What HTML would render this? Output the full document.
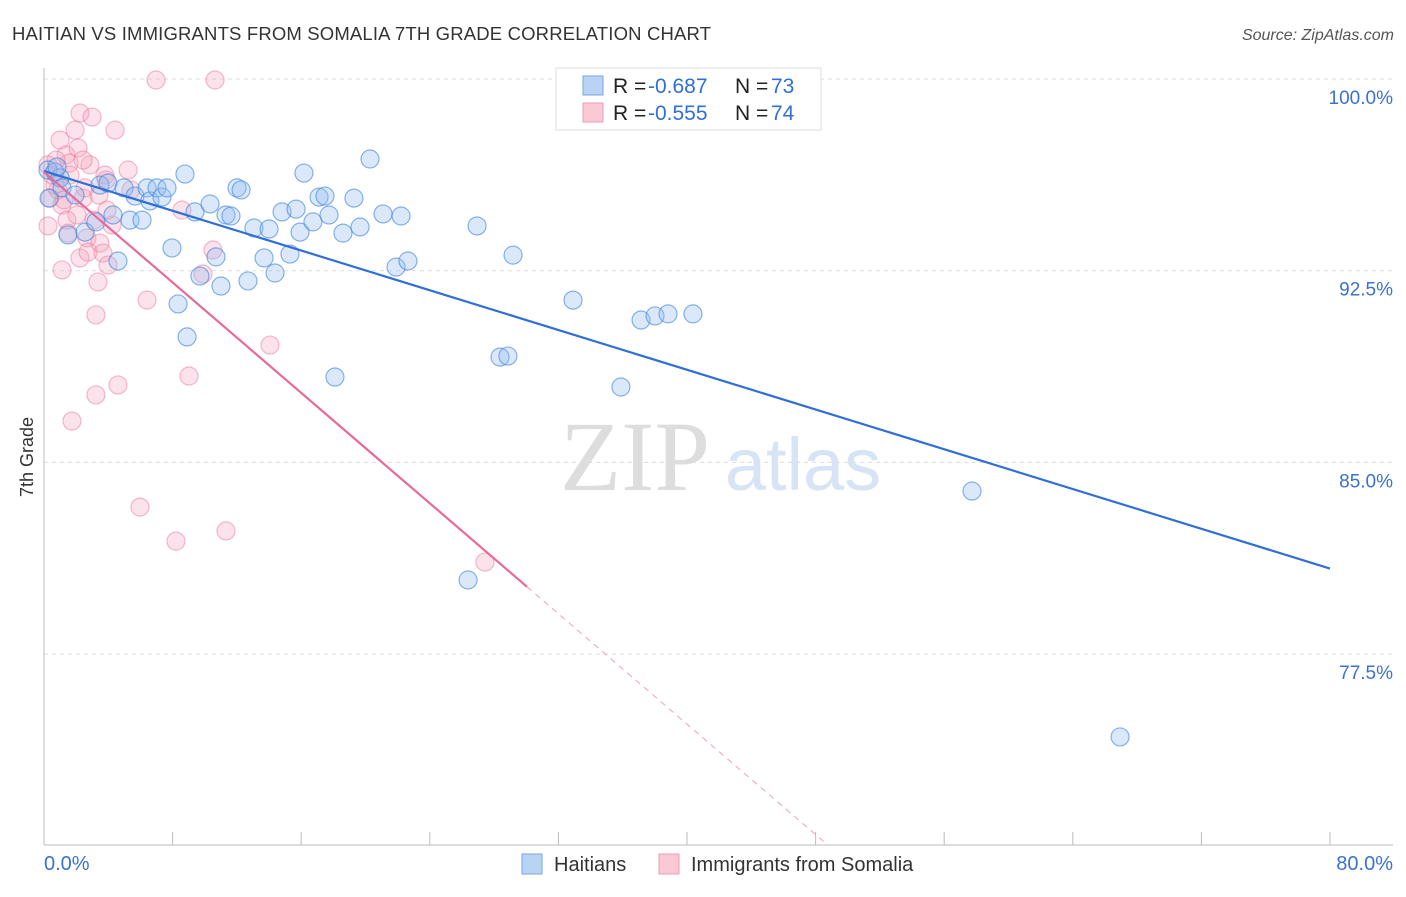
<!DOCTYPE html>
<html><head><meta charset="utf-8"><style>
body{margin:0;background:#fff;font-family:"Liberation Sans",sans-serif;}
svg text{font-family:"Liberation Sans",sans-serif;}
</style></head><body>
<svg id="chart" width="1406" height="892" viewBox="0 0 1406 892" xmlns="http://www.w3.org/2000/svg">
<text x="12" y="40" font-size="18.5" fill="#333" textLength="699">HAITIAN VS IMMIGRANTS FROM SOMALIA 7TH GRADE CORRELATION CHART</text>
<text x="1394" y="40" font-size="16" fill="#555" text-anchor="end" font-style="italic">Source: ZipAtlas.com</text>
<text transform="translate(33,457) rotate(-90)" font-size="18" fill="#333" text-anchor="middle">7th Grade</text>
<g>
<text x="635" y="490" font-size="100" fill="#ddd" text-anchor="middle" style="font-family:'Liberation Serif',serif">ZIP</text>
<text x="803" y="490" font-size="74" fill="#d6e4f5" text-anchor="middle">atlas</text>
</g>
<g id="grid"></g><g id="axes"></g><g id="pts"></g><g id="lines"></g>
<g>
<rect x="556" y="68" width="265" height="62" fill="#fff" stroke="#ddd"/>
<rect x="583" y="76" width="20" height="19" fill="#b9d3f5" stroke="#7aa6e3"/>
<rect x="583" y="103" width="20" height="19" fill="#fbc8d6" stroke="#f09bb5"/>
<text x="613" y="93" font-size="21" fill="#222">R =</text>
<text x="648" y="93" font-size="21" fill="#2f6fd6">-0.687</text>
<text x="735" y="93" font-size="21" fill="#222">N =</text>
<text x="771" y="93" font-size="21" fill="#2f6fd6">73</text>
<text x="613" y="120" font-size="21" fill="#222">R =</text>
<text x="648" y="120" font-size="21" fill="#2f6fd6">-0.555</text>
<text x="735" y="120" font-size="21" fill="#222">N =</text>
<text x="771" y="120" font-size="21" fill="#2f6fd6">74</text>
</g>
<g>
<rect x="522" y="854" width="20" height="20" fill="#b9d3f5" stroke="#7aa6e3"/>
<text x="554" y="871" font-size="20" fill="#333">Haitians</text>
<rect x="659" y="854" width="20" height="20" fill="#fbc8d6" stroke="#f09bb5"/>
<text x="691" y="871" font-size="20" fill="#333">Immigrants from Somalia</text>
</g>
</svg>
<script>
const yTicks=[100,92.5,85,77.5];
const yTickLabels=["100.0%","92.5%","85.0%","77.5%"];
const xLabels=["0.0%","80.0%"];
const haitiansX=[0.25,0.68,1.0,1.49,2.55,3.23,3.48,3.98,4.29,4.60,4.98,5.35,5.66,6.10,6.41,6.59,7.03,7.34,7.65,7.96,8.34,8.77,8.90,9.39,9.70,10.33,10.70,11.01,11.32,11.63,12.01,12.26,12.69,13.06,13.69,14.00,14.37,14.81,15.30,15.68,15.93,16.17,16.73,17.11,17.48,17.73,18.10,18.60,19.28,19.66,20.28,21.09,21.90,22.21,22.64,26.38,26.94,28.37,28.86,29.18,32.47,32.91,35.89,37.14,38.01,38.82,40.37,57.73,66.94,0.31,0.81,1.12,1.93];
const haitiansY=[96.44,96.36,96.13,93.90,94.01,94.41,95.85,95.93,94.68,92.88,95.74,94.48,95.42,94.48,95.74,95.23,95.74,95.38,95.74,93.39,91.20,96.28,89.91,94.80,92.29,95.11,93.04,91.90,94.68,94.64,95.74,95.66,92.10,94.17,93.00,94.13,92.41,94.80,93.15,94.91,94.01,96.32,94.41,95.38,95.42,94.68,88.34,93.97,95.34,94.21,96.87,94.72,92.64,94.64,92.88,80.40,94.25,89.12,89.16,93.11,99.96,91.35,87.95,90.57,90.73,90.81,90.81,83.88,74.26,95.34,96.56,95.74,95.46];
const somaliaX=[0.25,0.25,0.37,0.50,0.68,0.87,1.0,1.12,1.12,1.37,1.43,1.49,1.56,1.74,1.93,2.12,2.24,2.24,2.43,2.55,2.67,2.74,2.86,2.99,3.11,3.23,3.23,3.36,3.48,3.67,3.79,3.86,3.98,4.23,4.42,4.60,5.23,5.41,5.97,6.41,6.97,8.21,8.58,9.02,9.89,10.51,10.64,11.32,14.06,27.43,0.75,1.24,1.62,2.05,2.43,3.42,3.92];
const somaliaY=[94.25,96.64,95.34,96.24,95.85,95.66,97.61,95.07,92.53,97.03,94.48,93.97,96.71,86.62,98.00,97.30,98.67,93.00,95.34,95.74,93.78,93.23,96.64,98.51,94.48,90.77,87.64,92.06,93.58,93.19,96.24,96.05,92.72,94.29,98.00,88.03,96.44,95.66,83.25,91.35,99.96,81.92,94.87,88.38,92.37,93.31,99.96,82.32,89.59,81.10,96.83,95.27,96.24,94.68,96.83,95.46,94.87];
const blueTrend=[96.4,-0.1944];
const pinkTrend=[96.36,-0.54];
const pinkSolidEnd=30.05;

const X=v=>44+v*16.075;
const Y=v=>79+(100-v)*25.56;
const NS="http://www.w3.org/2000/svg";
function mk(tag,attrs,parent){const e=document.createElementNS(NS,tag);for(const k in attrs)e.setAttribute(k,attrs[k]);document.getElementById(parent).appendChild(e);return e;}

yTicks.forEach((t,i)=>{
  const g=mk('line',{x1:44,x2:1393,y1:Y(t),y2:Y(t),stroke:'#ddd','stroke-dasharray':'4,4'},'grid');
  
  
  const l=mk('text',{x:1393,y:Y(t)+25,'font-size':19,fill:'#3a72d0','text-anchor':'end'},'grid');
  l.textContent=yTickLabels[i];
  
  
});
const ax=mk('line',{x1:44,x2:44,y1:68,y2:845,stroke:'#bbb'},'axes');


const bx=mk('line',{x1:44,x2:1393,y1:845,y2:845,stroke:'#bbb'},'axes');


for(let i=0;i<=10;i++){
  const t=mk('line',{x1:X(i*8),x2:X(i*8),y1:832,y2:845,stroke:'#bbb'},'axes');
  
  
}
[[0,'start'],[80,'end']].forEach((p,i)=>{
  const t=mk('text',{x:i?1393:44,y:870,'font-size':20,fill:'#3a72d0','text-anchor':p[1]},'axes');
  t.textContent=xLabels[i];
  
  
});
somaliaX.forEach((x,i)=>{
  const c=mk('circle',{cx:X(x),cy:Y(somaliaY[i]),r:9,fill:'rgba(245,160,185,0.3)',stroke:'rgba(235,120,155,0.5)','stroke-width':1.2},'pts');
  
  
});
haitiansX.forEach((x,i)=>{
  const c=mk('circle',{cx:X(x),cy:Y(haitiansY[i]),r:9,fill:'rgba(150,190,240,0.35)',stroke:'rgba(60,130,220,0.6)','stroke-width':1.2},'pts');
  
  
});
const bl=mk('line',{x1:X(0),y1:Y(blueTrend[0]),x2:X(80),y2:Y(blueTrend[0]+80*blueTrend[1]),stroke:'#2f6fd6','stroke-width':2.2},'lines');


const pl=mk('line',{x1:X(0),y1:Y(pinkTrend[0]),x2:X(pinkSolidEnd),y2:Y(pinkTrend[0]+pinkSolidEnd*pinkTrend[1]),stroke:'#e8699a','stroke-width':2.2},'lines');


const xEnd=(pinkTrend[0]-70.03)/-pinkTrend[1];
const pd=mk('line',{x1:X(pinkSolidEnd),y1:Y(pinkTrend[0]+pinkSolidEnd*pinkTrend[1]),x2:X(xEnd),y2:Y(70.03),stroke:'#eea0bb','stroke-width':1,'stroke-dasharray':'6,5'},'lines');


</script>
</body></html>
